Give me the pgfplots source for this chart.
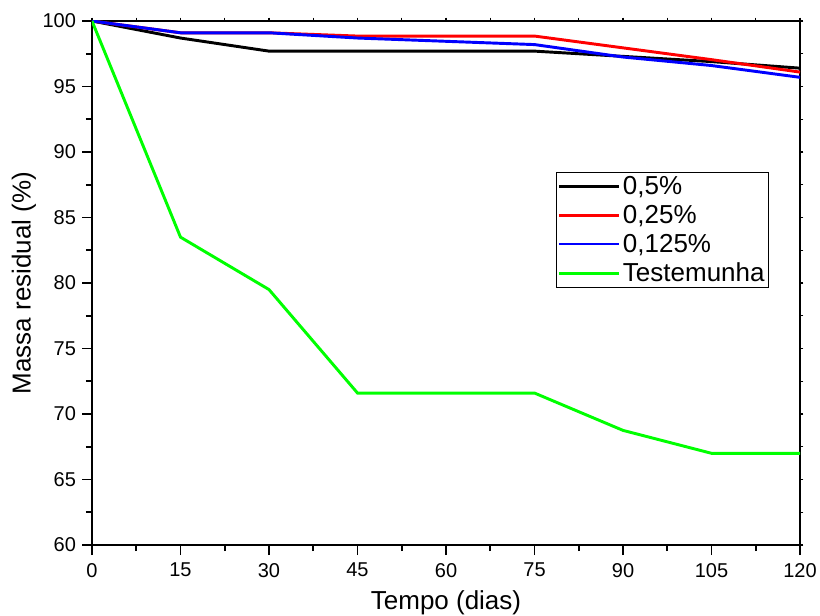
\documentclass[border=0pt]{standalone}
\usepackage{fontspec}
\setmainfont{Liberation Sans}
\usepackage{pgfplots}
\pgfplotsset{compat=1.18}
\definecolor{ogreen}{RGB}{0,255,0}
\definecolor{ored}{RGB}{255,0,0}
\definecolor{oblue}{RGB}{0,0,255}
\begin{document}
\begin{tikzpicture}[x=1pt,y=1pt]
\pgfplotsset{
  every axis/.append style={
    scale only axis, width=531pt, height=393pt,
    xmin=0, xmax=120, ymin=60, ymax=100,
    axis line style={line width=1.4pt},
    /pgf/number format/assume math mode=true,
  },
}
% mirrored short ticks on top and right
\begin{axis}[
  xtick={0,7.5,...,120}, ytick={60,62.5,...,100},
  xtick pos=right, ytick pos=right,
  xticklabels={}, yticklabels={},
  tick align=outside, major tick length=2.5pt,
  tick style={line width=1pt,black},
]
\end{axis}
\begin{axis}[
  xtick={0,15,...,120}, ytick={60,65,...,100},
  minor xtick={7.5,22.5,...,112.5}, minor ytick={62.5,67.5,...,97.5},
  xtick pos=left, ytick pos=left,
  tick align=outside, major tick length=7.5pt, minor tick length=4.5pt,
  tick style={line width=1.2pt,black},
  ticklabel style={font=\fontsize{15}{15}\selectfont},
  xticklabel style={yshift=-2.5pt},
  yticklabel style={xshift=-1pt},
  xlabel={Tempo (dias)}, ylabel={Massa residual (\%)},
  label style={font=\fontsize{19.5}{19.5}\selectfont},
  xlabel style={yshift=-3pt},
  ylabel style={yshift=-2pt},
  legend style={at={(rel axis cs:0.655,0.712)}, anchor=north west,
    font=\fontsize{19.5}{18}\selectfont, draw=black, line width=0.8pt,
    inner sep=1pt, row sep=2.5pt,
    legend cell align=left},
  legend image code/.code={\draw[line width=2pt,#1] (0pt,0pt) -- (45pt,0pt);},
  every axis plot/.append style={line width=2.2pt},
]
\addplot[black] coordinates {(0,100) (15,98.7) (30,97.7) (45,97.7) (60,97.7) (75,97.7) (90,97.3) (105,96.9) (120,96.4)};
\addlegendentry{0,5\%}
\addplot[ored] coordinates {(0,100) (15,99.1) (30,99.1) (45,98.85) (60,98.85) (75,98.85) (90,97.95) (105,97.05) (120,96.1)};
\addlegendentry{0,25\%}
\addplot[oblue] coordinates {(0,100) (15,99.1) (30,99.1) (45,98.7) (60,98.45) (75,98.2) (90,97.25) (105,96.6) (120,95.7)};
\addlegendentry{0,125\%}
\addplot[ogreen] coordinates {(0,100) (15,83.5) (30,79.5) (45,71.6) (60,71.6) (75,71.6) (90,68.75) (105,67.0) (120,67.0)};
\addlegendentry{Testemunha}
\end{axis}
\pgfresetboundingbox
\path (-69pt,-52.5pt) rectangle (546pt,408.75pt);
\end{tikzpicture}
\end{document}
